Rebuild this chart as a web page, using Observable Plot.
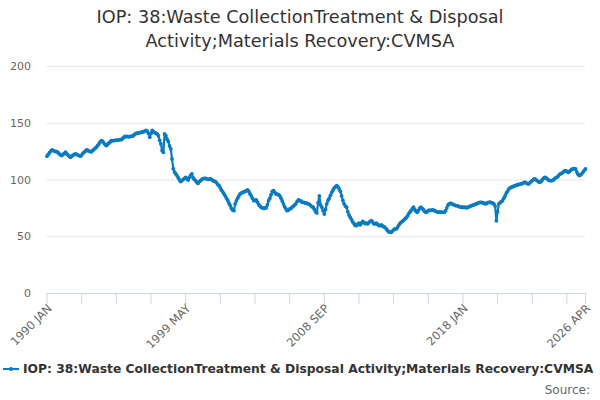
<!DOCTYPE html>
<html>
<head>
<meta charset="utf-8">
<script src="https://cdn.jsdelivr.net/npm/d3@7"></script>
<script src="https://cdn.jsdelivr.net/npm/@observablehq/plot@0.6"></script>
<style>
  body { margin: 0; background: #fff; font-family: "DejaVu Sans", sans-serif; }
  #wrap { position: relative; width: 600px; height: 400px; overflow: hidden; }
  #title { position: absolute; top: 5px; left: 0; width: 600px; text-align: center; font-size: 17.7px; line-height: 24px; color: #333; }
  #chart { position: absolute; top: 54px; left: 0; }
  #legend { position: absolute; top: 360px; left: 3px; height: 18px; line-height: 18px; font-size: 12.3px; font-weight: bold; color: #333; white-space: nowrap; display: flex; align-items: center; }
  #legend svg { margin-right: 4px; }
  #source { position: absolute; top: 382px; right: 10px; font-size: 12px; line-height: 16px; color: #666; }
</style>
</head>
<body>
<div id="wrap">
  <div id="title"></div>
  <div id="chart"></div>
  <div id="legend"></div>
  <div id="source">Source:</div>
</div>
<script>
const titleLines = ["IOP: 38:Waste CollectionTreatment & Disposal", "Activity;Materials Recovery:CVMSA"];
const seriesName = "IOP: 38:Waste CollectionTreatment & Disposal Activity;Materials Recovery:CVMSA";
const startYear = 1990;
const monthNames = ["JAN","FEB","MAR","APR","MAY","JUN","JUL","AUG","SEP","OCT","NOV","DEC"];

// Monthly values, Jan 1990 .. Apr 2026 (one row per year)
const values = [
  121, 122.5, 124, 125.5, 126.5, 126, 125.5, 125, 125, 124, 123, 122,
  121.5, 122.5, 123.5, 124.5, 123, 122, 121, 120, 121, 122, 122.5, 123,
  122.5, 122, 121.5, 121, 122, 123.5, 124.5, 125.5, 126.5, 126, 125.5, 125,
  125, 126, 127, 128, 129, 130.5, 132, 133.5, 134.7, 134, 132.5, 131,
  130.3, 131.5, 132.5, 133.5, 134.7, 134.5, 134.7, 135, 135.2, 135, 135.3, 135.6,
  135.5, 136.5, 137.5, 138.5, 138.2, 138.5, 138, 138.3, 138.7, 138.5, 139.5, 140.5,
  141, 141.2, 141.5, 141.8, 142, 142.3, 142.5, 143, 143.6, 143, 141, 137.7,
  141, 143.6, 142.5, 141.8, 141.2, 140.6, 139, 135, 131.8, 126, 124.4, 140.6,
  139, 136, 134, 130, 127.4, 118.6, 110, 107, 105.5, 103.9, 102, 100,
  98.6, 99.5, 100.5, 101.5, 102.4, 101, 100, 102.4, 104, 105.4, 102, 100.5,
  99.5, 98, 97, 98.5, 99.5, 100.5, 101, 101.5, 101.5, 101, 100.5, 100.8,
  101, 100.5, 99.5, 99, 98.6, 97.5, 96, 95, 93, 91, 89.5, 87.7,
  86, 84, 82, 79.5, 77.4, 75, 73.5, 73, 79, 81.8, 84, 86,
  87.7, 88.5, 89, 89.5, 90, 90.5, 91.3, 90, 87.7, 86, 84, 81.8,
  82, 82.4, 80.5, 78.3, 77, 76, 75.4, 75, 75.5, 75.4, 78, 81.8,
  84, 87, 90, 90.7, 89, 87.7, 87.5, 87, 86.2, 84, 81.5, 78.9,
  76.5, 74.5, 73, 73.5, 74.5, 75, 76, 77, 78, 79, 81, 82.4,
  82, 81.5, 80.5, 80.3, 80, 79.5, 79.5, 79, 78.5, 77.5, 76.5, 76,
  74, 72, 71, 80, 86, 78, 76, 73, 70, 74, 79, 82,
  84, 86.5, 89, 91, 93, 94, 95, 94, 92.1, 90, 86, 82,
  79, 77, 76, 72, 69, 67, 65, 63, 61.5, 60, 59.8, 61,
  62, 60.5, 62, 63.5, 62.7, 61.5, 62, 61.3, 62.5, 63.5, 64.2, 63,
  61.5, 61.3, 62, 61, 60, 59.8, 60.5, 59.5, 58.8, 58.3, 57, 55.5,
  54.5, 54, 53.9, 55, 56, 57, 56.9, 58, 60, 61.5, 62.7, 63.5,
  64.5, 65.7, 66.5, 68, 70, 71.5, 73, 74.5, 76, 74, 72.5, 71.5,
  73, 75, 76, 75, 74, 72.5, 71.5, 72, 73, 73.5, 73.2, 73.5,
  73.6, 73, 72.5, 72, 71.5, 71.8, 72, 71.5, 71.5, 71.5, 73, 75.5,
  78, 79, 79.5, 79, 78.5, 78, 77.5, 77.4, 77, 76.5, 76.2, 76,
  76, 75.8, 76, 75.5, 76, 76.5, 77, 77.4, 77.8, 78.3, 78.7, 79,
  79.5, 80, 80.2, 80.3, 80, 79.5, 79, 79.3, 80, 80.3, 80.5, 80,
  79.5, 79, 77, 64, 72, 79, 80, 81, 81.8, 84, 86, 88.5,
  90, 92, 93, 93.6, 94, 94.5, 95, 95.3, 95.8, 96, 96.3, 96.5,
  97, 97.5, 98, 97.5, 96.8, 96.5, 97.5, 98.5, 99.5, 100.5, 101, 100,
  99.5, 98.5, 98, 98.5, 100, 101.5, 102.4, 102, 101, 100, 99.5, 99.5,
  99.5, 100, 101, 102, 102.4, 103.5, 105, 105.4, 106, 107, 108, 108.3,
  107.5, 106.8, 107.5, 108.5, 109.5, 109.8, 110, 109.8, 107, 105, 103.9, 104.5,
  105.4, 107, 108.5, 109.8
];

const yTicks = [0, 50, 100, 150, 200];
const xTickLabels = ["1990 JAN", "1999 MAY", "2008 SEP", "2018 JAN", "2026 APR"];
const xTickStep = 28; // months between minor ticks

const color = "#0b7bc1";

// Build table
const data = values.map((v, i) => ({ i, value: v, label: `${startYear + Math.floor(i / 12)} ${monthNames[i % 12]}` }));
const labelIndex = new Map(data.map(d => [d.label, d.i]));
const labelPositions = xTickLabels.map(l => labelIndex.get(l));
const lastIndex = values.length - 1;
const minorTicks = d3.range(0, lastIndex + 1, xTickStep).concat([lastIndex]);
const labelOf = new Map(xTickLabels.map((l, k) => [labelPositions[k], l]));

document.getElementById("title").innerHTML = titleLines.join("<br>");

const plot = Plot.plot({
  width: 600,
  height: 300,
  marginTop: 12,
  marginBottom: 61,
  marginLeft: 46.5,
  marginRight: 15,
  style: { fontFamily: "DejaVu Sans, sans-serif", background: "#fff", overflow: "visible" },
  x: { type: "linear", domain: [0, lastIndex] },
  y: { domain: [0, 200] },
  marks: [
    Plot.gridY(yTicks, { stroke: "#e6e6e6", strokeOpacity: 1 }),
    Plot.axisY({ ticks: yTicks, tickSize: 0, tickPadding: 16, fontSize: 11, fill: "#666", label: null }),
    Plot.ruleY([0], { stroke: "#ccd6eb" }),
    Plot.axisX({ ticks: minorTicks, tickSize: 11, stroke: "#ccd6eb", strokeOpacity: 1, tickFormat: () => "", label: null }),
    Plot.axisX({ ticks: labelPositions, tickSize: 0, tickPadding: 13, tickRotate: -45, textAnchor: "end", dx: 3, fontSize: 11.5, fill: "#666", tickFormat: d => labelOf.get(d), label: null }),
    Plot.line(data, { x: "i", y: "value", stroke: color, strokeWidth: 2.2 }),
    Plot.dot(data, { x: "i", y: "value", r: 1.9, fill: color, stroke: "none" })
  ]
});
document.getElementById("chart").appendChild(plot);

// Legend
const legend = document.getElementById("legend");
legend.innerHTML = `<svg width="16" height="10"><line x1="0" y1="5" x2="16" y2="5" stroke="${color}" stroke-width="2"/><circle cx="8" cy="5" r="2" fill="${color}"/></svg><span></span>`;
legend.querySelector("span").textContent = seriesName;
</script>
</body>
</html>
